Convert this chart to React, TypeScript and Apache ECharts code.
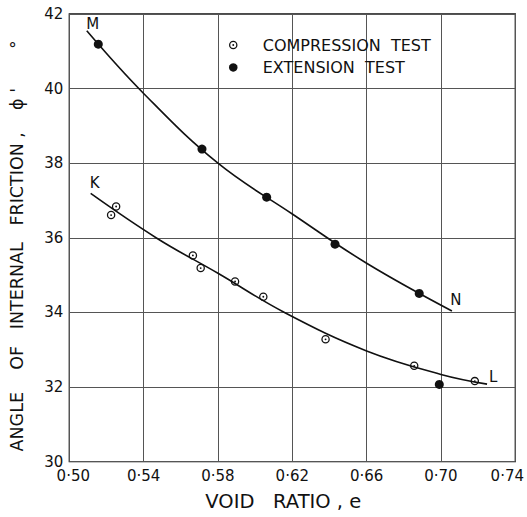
import React, { useEffect, useRef } from 'react';
import * as echarts from 'echarts';

// Measured points: void ratio e against angle of internal friction φ' (degrees)
const compressionTest: [number, number][] = [
  [0.5225, 36.61], [0.5252, 36.84], [0.5665, 35.53], [0.5707, 35.19], [0.5892, 34.83],
  [0.6044, 34.42], [0.6379, 33.28], [0.6856, 32.57], [0.7182, 32.16],
];
const extensionTest: [number, number][] = [
  [0.5156, 41.19], [0.5714, 38.38], [0.6062, 37.09], [0.643, 35.83], [0.6883, 34.51], [0.6991, 32.07],
];

// Hand-drawn trend curves M–N (extension) and K–L (compression)
const curveMN: [number, number][] = [
  [0.5094, 41.55], [0.54, 39.87], [0.58, 38.0], [0.62, 36.64], [0.66, 35.32], [0.7059, 34.04],
];
const curveKL: [number, number][] = [
  [0.5115, 37.19], [0.5471, 35.99], [0.58, 35.05], [0.6158, 34.0], [0.66, 32.97], [0.7, 32.34], [0.7248, 32.08],
];
const curveEndLabels = { MN: ['M', 'N'], KL: ['K', 'L'] };

const xTicks = { min: 0.5, max: 0.74, step: 0.04 };
const yTicks = { min: 30, max: 42, step: 2 };

const FONT = 'DejaVu Sans';
const INK = '#111';

// open circle with a centre dot
const dottedCircle =
  'path://M0,-10A10,10 0 1,1 0,10A10,10 0 1,1 0,-10Z' +
  'M0,-7A7,7 0 1,0 0,7A7,7 0 1,0 0,-7Z' +
  'M0,-2.2A2.2,2.2 0 1,1 0,2.2A2.2,2.2 0 1,1 0,-2.2Z';

function labelled(
  pts: [number, number][],
  names: string[],
  offsets: [number, number][]
) {
  return pts.map((p, i) => {
    const which = i === 0 ? 0 : i === pts.length - 1 ? 1 : -1;
    if (which < 0) return { value: p };
    return {
      value: p,
      label: {
        show: true,
        formatter: names[which],
        position: 'inside',
        offset: offsets[which],
        fontFamily: FONT,
        fontSize: 15,
        color: INK,
      },
    };
  });
}

export default function App() {
  const ref = useRef<HTMLDivElement>(null);

  useEffect(() => {
    if (!ref.current) return;
    const chart = echarts.init(ref.current, undefined, { renderer: 'svg' });
    const fmtX = (v: number) => {
      const s = v.toFixed(2).replace('.', '·');
      if (Math.abs(v - xTicks.max) < 1e-6) return `{last|${s}}`;
      if (Math.abs(v - xTicks.min) < 1e-6) return `{first|${s}}`;
      return s;
    };
    const tick = { fontFamily: FONT, fontSize: 15, color: INK };
    chart.setOption({
      animation: false,
      backgroundColor: '#fff',
      textStyle: { fontFamily: FONT },
      grid: {
        left: 69.3, right: 11.7, top: 14, bottom: 55.3,
        show: true, borderColor: INK, borderWidth: 1.3, backgroundColor: 'transparent',
      },
      legend: {
        data: [
          { name: 'COMPRESSION  TEST', icon: dottedCircle },
          { name: 'EXTENSION  TEST', icon: 'circle' },
        ],
        orient: 'vertical',
        left: 224,
        top: 32,
        itemWidth: 49,
        itemHeight: 8.5,
        itemGap: 6.4,
        selectedMode: false,
        textStyle: { fontFamily: FONT, fontSize: 16, color: INK, lineHeight: 16 },
      },
      xAxis: {
        type: 'value',
        min: xTicks.min,
        max: xTicks.max,
        interval: xTicks.step,
        axisLine: { show: false },
        axisTick: { show: false },
        splitLine: { show: true, lineStyle: { color: '#555', width: 1 } },
        axisLabel: {
          ...tick,
          margin: 7,
          formatter: fmtX,
          rich: {
            first: { ...tick, padding: [0, 0, 0, 8] },
            last: { ...tick, padding: [0, 16, 0, 0] },
          },
        },
        name: 'VOID   RATIO , e',
        nameLocation: 'middle',
        nameGap: 30,
        nameTextStyle: { fontFamily: FONT, fontSize: 19.5, color: INK, padding: [0, 18, 0, 0] },
      },
      yAxis: {
        type: 'value',
        min: yTicks.min,
        max: yTicks.max,
        interval: yTicks.step,
        axisLine: { show: false },
        axisTick: { show: false },
        splitLine: { show: true, lineStyle: { color: '#555', width: 1 } },
        axisLabel: { ...tick, margin: 6 },
        name: "ANGLE    OF   INTERNAL   FRICTION ,    ϕ '       °",
        nameLocation: 'middle',
        nameRotate: 90,
        nameGap: 43,
        nameTextStyle: { fontFamily: FONT, fontSize: 17.5, color: INK, padding: [0, 16, 0, 0] },
      },
      series: [
        {
          name: 'MN',
          type: 'line',
          data: labelled(curveMN, curveEndLabels.MN, [[6, -7], [4, -11]]),
          smooth: 0.4,
          symbol: 'circle',
          symbolSize: 0,
          showSymbol: true,
          lineStyle: { color: INK, width: 1.6 },
          itemStyle: { color: INK },
          z: 2,
        },
        {
          name: 'KL',
          type: 'line',
          data: labelled(curveKL, curveEndLabels.KL, [[4, -10], [6, -7]]),
          smooth: 0.4,
          symbol: 'circle',
          symbolSize: 0,
          showSymbol: true,
          lineStyle: { color: INK, width: 1.6 },
          itemStyle: { color: INK },
          z: 2,
        },
        {
          name: 'COMPRESSION  TEST',
          type: 'scatter',
          data: compressionTest,
          symbol: dottedCircle,
          symbolSize: 8.5,
          itemStyle: { color: INK, opacity: 1 },
          z: 3,
        },
        {
          name: 'EXTENSION  TEST',
          type: 'scatter',
          data: extensionTest,
          symbol: 'circle',
          symbolSize: 9,
          itemStyle: { color: INK, opacity: 1 },
          z: 3,
        },
      ],
    });
    return () => chart.dispose();
  }, []);

  return (
    <div
      ref={ref}
      style={{ position: 'fixed', left: 0, top: 0, width: 527, height: 517, background: '#fff' }}
    />
  );
}
